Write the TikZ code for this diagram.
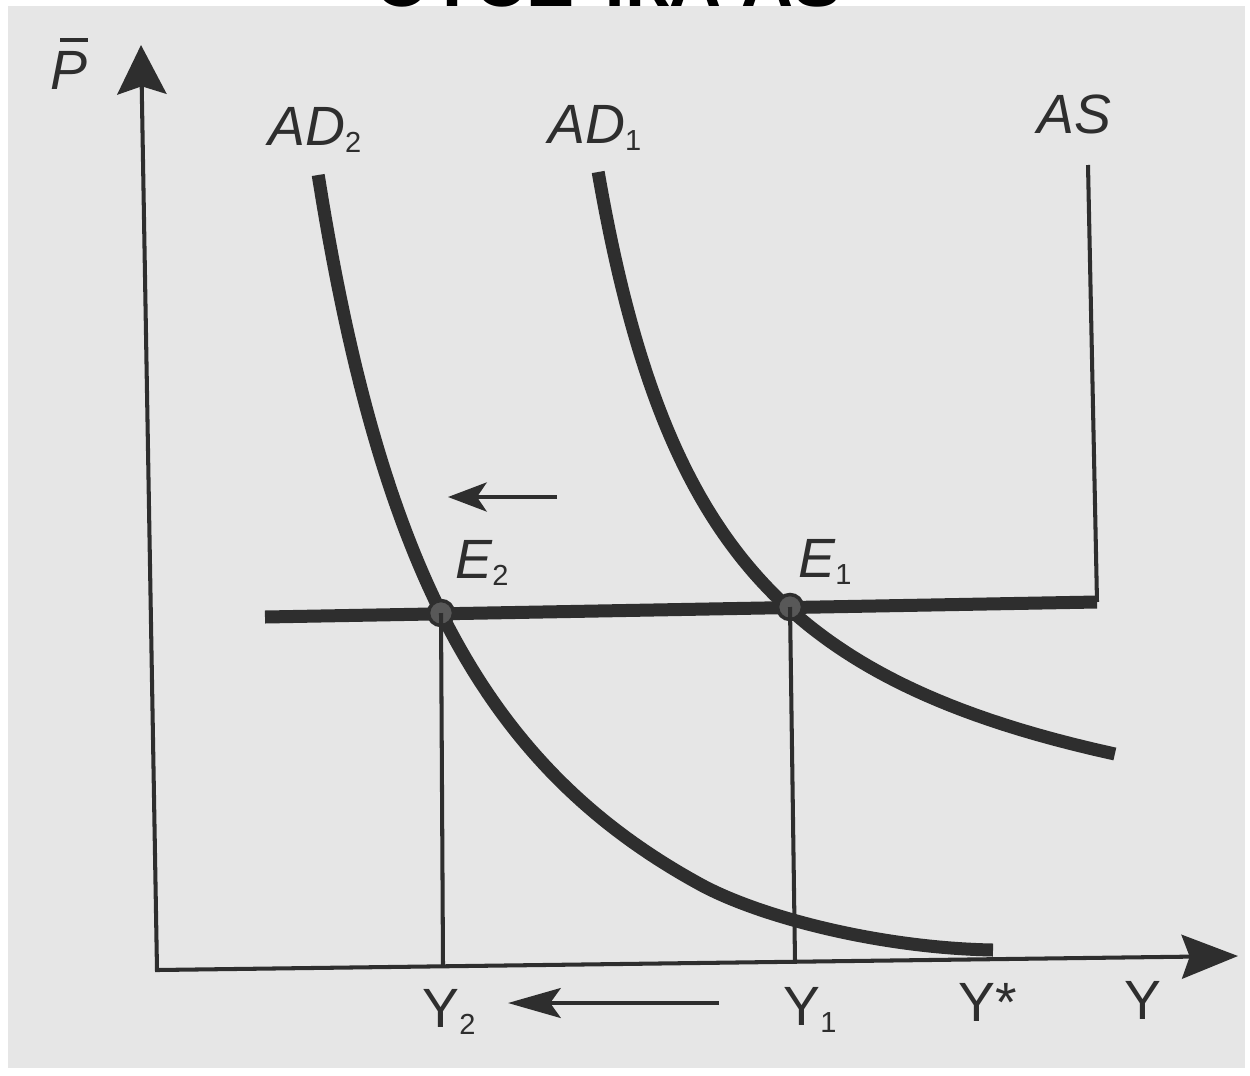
\documentclass[tikz,border=0pt]{standalone}
\usepackage{fontspec}
\setmainfont{Liberation Sans}
\usetikzlibrary{arrows.meta}
\definecolor{ink}{HTML}{2E2E2E}
\definecolor{paper}{HTML}{E6E6E6}
\newcommand{\sbs}[1]{\raisebox{-4pt}{\fontsize{16.5}{18}\selectfont\upshape #1}}
\begin{document}
\begin{tikzpicture}[x=0.02cm,y=-0.02cm,
  thinline/.style={draw=ink, line width=2.3pt},
  thickline/.style={draw=ink, line width=7.4pt},
  shiftarrow/.style={draw=ink, line width=2.4pt},
  lbl/.style={text=ink, inner sep=0pt, anchor=base west, font=\fontsize{31.5}{36}\selectfont\itshape},
  ylbl/.style={text=ink, inner sep=0pt, anchor=base west, font=\fontsize{31.5}{36}\selectfont},
  ept/.style={circle, draw=ink, fill=ink!80, line width=2pt, inner sep=0pt, minimum size=0.5cm}]
\useasboundingbox (0,0) rectangle (1250,1075);
\fill[white] (0,0) rectangle (1250,1075);
\fill[paper] (8,6) rectangle (1245,1068);

% cut-off title
\node[font=\fontsize{41}{48}\selectfont\bfseries, text=black, inner sep=0pt, anchor=base] (title) at (608,7) {ОТСЕЧКА AS};

% axes
\coordinate (o) at (157,970);
\coordinate (ytip) at (141,45);
\coordinate (xtip) at (1238,956);
\draw[thinline, line join=miter, {Stealth[length=28pt,width=28pt,inset=4.5pt]}-{Stealth[length=32pt,width=25pt,inset=4.5pt]}] (ytip) -- (o) -- (xtip);

% AS curve
\coordinate (asL) at (265,617);
\coordinate (asC) at (1097,602);
\coordinate (asT) at (1088,165);
\draw[thickline] (asL) -- (asC);
\draw[thinline] (asC) -- (asT);

% AD2
\draw[thickline] plot[domain=175:884.3, samples=120] ({159+1600*(100/(1180-\x))},\x)
  .. controls (760,917) and (880,948) .. (993,950);
% AD1
\draw[thickline] plot[domain=172:754, samples=120] ({473+100*(905/(895-\x))},\x);

% equilibrium points and drop lines
\node[ept] (E2pt) at (441,613) {};
\node[ept] (E1pt) at (790,607) {};
\coordinate (y2f) at (443,966);
\coordinate (y1f) at (795,961);
\draw[thinline] (E2pt.center) -- (y2f);
\draw[thinline] (E1pt.center) -- (y1f);

% shift arrows
\coordinate (a1s) at (557,497);
\coordinate (a1e) at (448,497);
\draw[shiftarrow, -{Stealth[length=22pt,width=16.5pt,inset=5.5pt]}] (a1s) -- (a1e);
\coordinate (a2s) at (719,1003);
\coordinate (a2e) at (508,1003);
\draw[shiftarrow, -{Stealth[length=30pt,width=17pt,inset=6pt]}] (a2s) -- (a2e);

% labels
\node[lbl] (pl) at (50,89) {P};
\draw[ink, line width=2pt] (60,40) -- (88,40);
\node[lbl] (ad2) at (268,145) {AD\sbs{2}};
\node[lbl] (ad1) at (548,143) {AD\sbs{1}};
\node[lbl] (as) at (1037,133) {AS};
\node[lbl] (e2) at (455,578) {E\sbs{2}};
\node[lbl] (e1) at (798,577) {E\sbs{1}};
\node[ylbl] (y2) at (422,1027) {Y\sbs{2}};
\node[ylbl] (y1) at (783,1025) {Y\sbs{1}};
\node[ylbl] (ys) at (958,1021) {Y*};
\node[ylbl] (yy) at (1124,1019) {Y};
\end{tikzpicture}
\end{document}
